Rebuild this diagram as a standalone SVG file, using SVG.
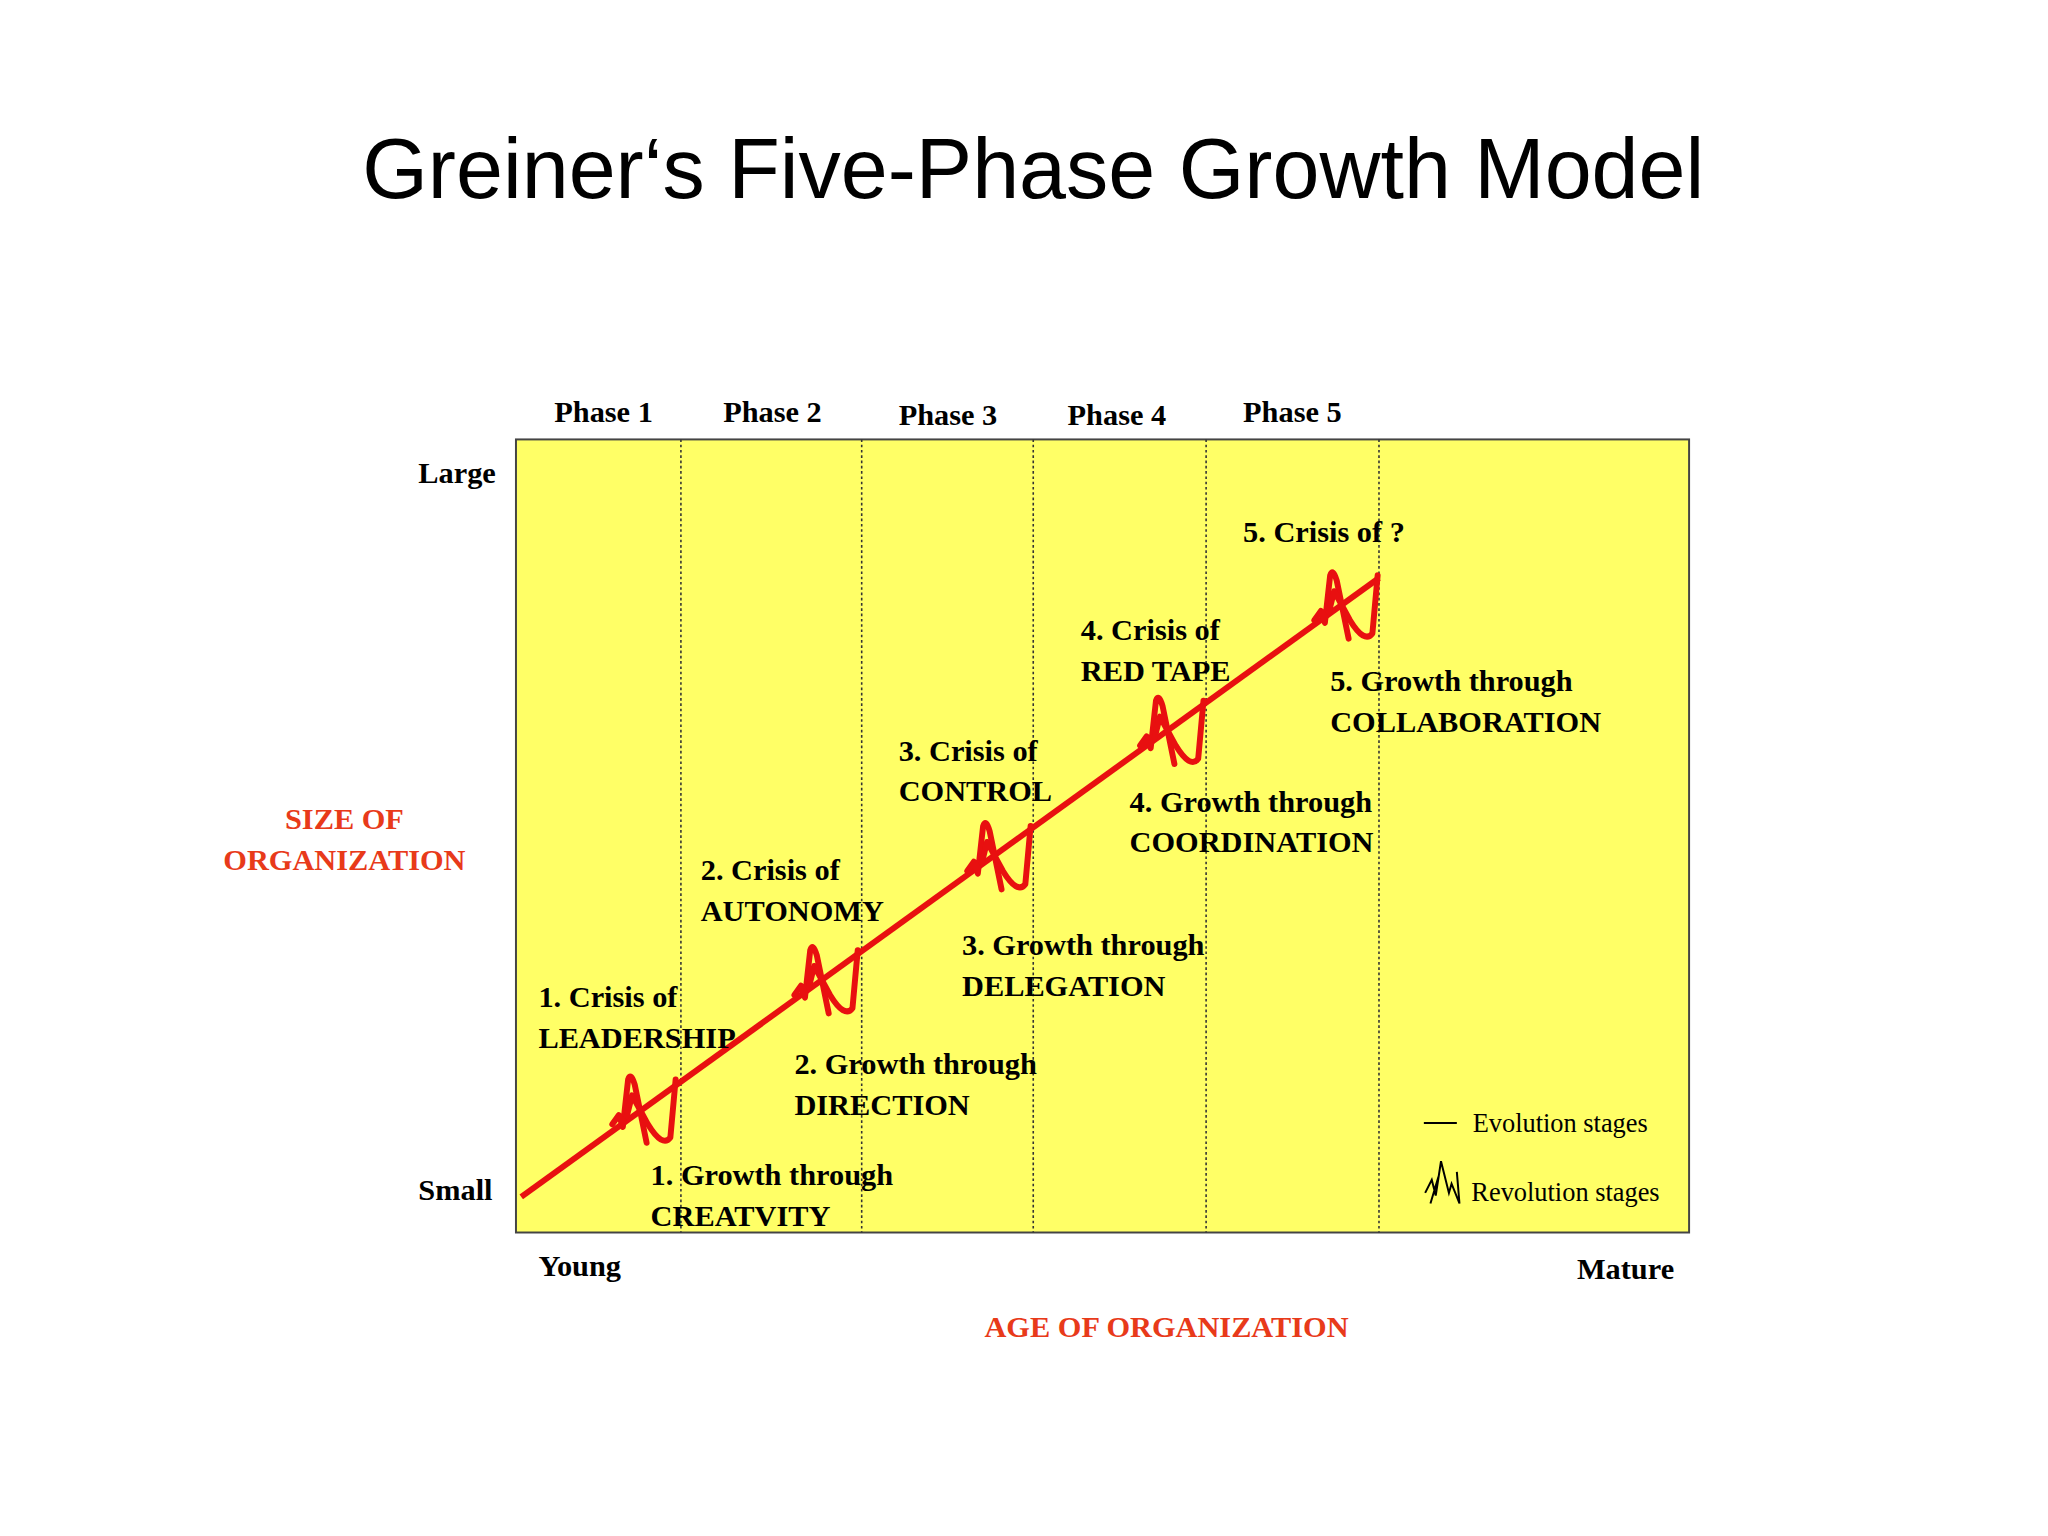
<svg xmlns="http://www.w3.org/2000/svg" width="2048" height="1536" viewBox="0 0 2048 1536">
<defs>
<style>
.t{font-family:"Liberation Serif",serif;font-weight:bold;font-size:23px;fill:#000}
.r{font-family:"Liberation Serif",serif;font-weight:bold;font-size:23px;fill:#e83a1a}
.l{font-family:"Liberation Serif",serif;font-size:20px;fill:#000}
.dv{stroke:#333;stroke-width:1.2;stroke-dasharray:2 2}
.rev{fill:none;stroke:#e81010;stroke-width:4.5;stroke-linejoin:round;stroke-linecap:round}
</style>
<g id="wave">
<path class="rev" d="M-24,12 L-19,5 L-16,14 L-12,-22 Q-10,-28 -7,-18 L2,26"/>
<path class="rev" d="M-13,6 L-9,-10 L3,12 Q14,30 20,22 L24,-22"/>
</g>
</defs>
<rect width="2048" height="1536" fill="#fff"/>
<g transform="scale(1.3196)">
<text x="783" y="150" text-anchor="middle" font-family="Liberation Sans, Arial, sans-serif" font-size="64" fill="#000">Greiner‘s Five-Phase Growth Model</text>
<g id="chart">
<rect x="391" y="333" width="889" height="601" fill="#ffff66" stroke="#444" stroke-width="1.5"/>
<line class="dv" x1="516" y1="333" x2="516" y2="934"/>
<line class="dv" x1="653" y1="333" x2="653" y2="934"/>
<line class="dv" x1="783" y1="333" x2="783" y2="934"/>
<line class="dv" x1="914" y1="333" x2="914" y2="934"/>
<line class="dv" x1="1045" y1="333" x2="1045" y2="934"/>
</g>
<g id="axis-labels">
<text class="t" x="420" y="320">Phase 1</text>
<text class="t" x="548" y="320">Phase 2</text>
<text class="t" x="681" y="322">Phase 3</text>
<text class="t" x="809" y="322">Phase 4</text>
<text class="t" x="942" y="320">Phase 5</text>
<text class="t" x="317" y="366">Large</text>
<text class="t" x="317" y="909">Small</text>
<text class="t" x="408" y="967">Young</text>
<text class="t" x="1195" y="969">Mature</text>
<text class="r" x="261" y="628" text-anchor="middle">SIZE OF</text>
<text class="r" x="261" y="659" text-anchor="middle">ORGANIZATION</text>
<text class="r" x="884" y="1013" text-anchor="middle">AGE OF ORGANIZATION</text>
</g>
<g id="connectors">
<line x1="395" y1="907" x2="1045" y2="438" stroke="#e81010" stroke-width="4.5"/>
<use href="#wave" x="488" y="840"/>
<use href="#wave" x="626" y="742"/>
<use href="#wave" x="757" y="648"/>
<use href="#wave" x="888" y="553"/>
<use href="#wave" x="1020" y="458"/>
</g>
<g id="labels">
<text class="t" x="408" y="763">1. Crisis of</text>
<text class="t" x="408" y="794">LEADERSHIP</text>
<text class="t" x="493" y="898">1. Growth through</text>
<text class="t" x="493" y="929">CREATVITY</text>
<text class="t" x="531" y="667">2. Crisis of</text>
<text class="t" x="531" y="698">AUTONOMY</text>
<text class="t" x="602" y="814">2. Growth through</text>
<text class="t" x="602" y="845">DIRECTION</text>
<text class="t" x="681" y="577">3. Crisis of</text>
<text class="t" x="681" y="607">CONTROL</text>
<text class="t" x="729" y="724">3. Growth through</text>
<text class="t" x="729" y="755">DELEGATION</text>
<text class="t" x="819" y="485">4. Crisis of</text>
<text class="t" x="819" y="516">RED TAPE</text>
<text class="t" x="856" y="615">4. Growth through</text>
<text class="t" x="856" y="646">COORDINATION</text>
<text class="t" x="942" y="411">5. Crisis of ?</text>
<text class="t" x="1008" y="524">5. Growth through</text>
<text class="t" x="1008" y="555">COLLABORATION</text>
</g>
<g id="legend">
<line x1="1079" y1="851" x2="1104" y2="851" stroke="#000" stroke-width="1.5"/>
<text class="l" x="1116" y="858">Evolution stages</text>
<path d="M1080,904 L1085,894 L1088,906 L1092,880 L1098,904 L1100,897 L1106,912 L1104,888 M1084,912 L1090,892" fill="none" stroke="#000" stroke-width="1.5"/>
<text class="l" x="1115" y="910">Revolution stages</text>
</g>
</g>
</svg>
